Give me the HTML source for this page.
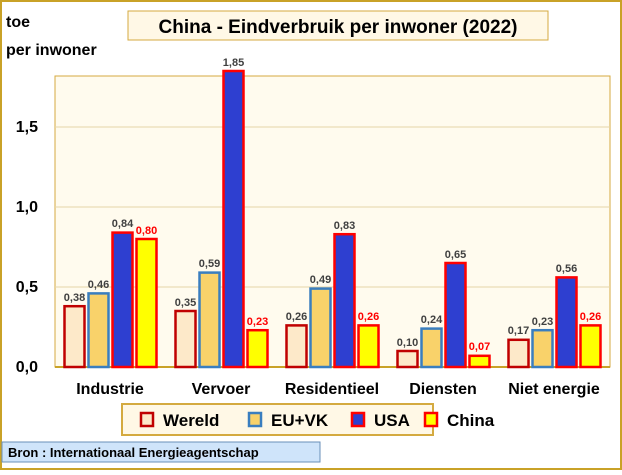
<!DOCTYPE html><html><head><style>body{margin:0;width:622px;height:470px;overflow:hidden;background:#fff}</style></head><body>
<svg width="622" height="470" xmlns="http://www.w3.org/2000/svg" font-family="'Liberation Sans',sans-serif" font-weight="bold">
<rect x="1" y="1" width="620" height="468" fill="#fff" stroke="#c9a227" stroke-width="2"/>
<rect x="55" y="76" width="555" height="291" fill="#fffbee" stroke="#d4aa40" stroke-width="1"/>
<g stroke="#e6d6a8" stroke-width="1"><line x1="55" y1="287" x2="610" y2="287"/><line x1="55" y1="207" x2="610" y2="207"/><line x1="55" y1="127" x2="610" y2="127"/></g>
<line x1="55" y1="367" x2="610" y2="367" stroke="#c9a227" stroke-width="2"/>
<rect x="128" y="11" width="420" height="29" fill="#fff8e6" stroke="#d4aa40"/>
<text x="338" y="33" text-anchor="middle" font-size="19" fill="#000">China - Eindverbruik per inwoner (2022)</text>
<text x="6" y="27" font-size="16">toe</text><text x="6" y="55" font-size="16">per inwoner</text>
<g font-size="16" text-anchor="end"><text x="38" y="372">0,0</text><text x="38" y="292">0,5</text><text x="38" y="212">1,0</text><text x="38" y="132">1,5</text></g>
<g stroke-width="2.5">
<g fill="#fde9c9" stroke="#c00000">
<rect x="64.5" y="306.2" width="20" height="60.8"/><rect x="175.5" y="311" width="20" height="56"/><rect x="286.5" y="325.4" width="20" height="41.6"/><rect x="397.5" y="351" width="20" height="16"/><rect x="508.5" y="339.8" width="20" height="27.2"/></g>
<g fill="#f9d26a" stroke="#3a7ebf">
<rect x="88.5" y="293.4" width="20" height="73.6"/><rect x="199.5" y="272.6" width="20" height="94.4"/><rect x="310.5" y="288.6" width="20" height="78.4"/><rect x="421.5" y="328.6" width="20" height="38.4"/><rect x="532.5" y="330.2" width="20" height="36.8"/></g>
<g fill="#2e3fd0" stroke="#f00">
<rect x="112.5" y="232.6" width="20" height="134.4"/><rect x="223.5" y="71" width="20" height="296"/><rect x="334.5" y="234.2" width="20" height="132.8"/><rect x="445.5" y="263" width="20" height="104"/><rect x="556.5" y="277.4" width="20" height="89.6"/></g>
<g fill="#ff0" stroke="#f00">
<rect x="136.5" y="239" width="20" height="128"/><rect x="247.5" y="330.2" width="20" height="36.8"/><rect x="358.5" y="325.4" width="20" height="41.6"/><rect x="469.5" y="355.8" width="20" height="11.2"/><rect x="580.5" y="325.4" width="20" height="41.6"/></g>
</g>
<g font-size="11" text-anchor="middle" fill="#404040">
<text x="74.5" y="301">0,38</text><text x="98.5" y="288">0,46</text><text x="122.5" y="227">0,84</text>
<text x="185.5" y="306">0,35</text><text x="209.5" y="267">0,59</text><text x="233.5" y="66">1,85</text>
<text x="296.5" y="320">0,26</text><text x="320.5" y="283">0,49</text><text x="344.5" y="229">0,83</text>
<text x="407.5" y="346">0,10</text><text x="431.5" y="323">0,24</text><text x="455.5" y="258">0,65</text>
<text x="518.5" y="334">0,17</text><text x="542.5" y="325">0,23</text><text x="566.5" y="272">0,56</text>
</g>
<g font-size="11" text-anchor="middle" fill="#f00">
<text x="146.5" y="234">0,80</text><text x="257.5" y="325">0,23</text><text x="368.5" y="320">0,26</text><text x="479.5" y="350">0,07</text><text x="590.5" y="320">0,26</text>
</g>
<g font-size="16" text-anchor="middle"><text x="110" y="394">Industrie</text><text x="221" y="394">Vervoer</text><text x="332" y="394">Residentieel</text><text x="443" y="394">Diensten</text><text x="554" y="394">Niet energie</text></g>
<rect x="122" y="404" width="311" height="31" fill="#fff8e6" stroke="#d4aa40" stroke-width="2"/>
<g font-size="17"><rect x="141" y="413" width="12" height="13" fill="#fde9c9" stroke="#c00000" stroke-width="2.5"/><text x="163" y="426">Wereld</text>
<rect x="249" y="413" width="12" height="13" fill="#f9d26a" stroke="#3a7ebf" stroke-width="2.5"/><text x="271" y="426">EU+VK</text>
<rect x="352" y="413" width="12" height="13" fill="#2e3fd0" stroke="#f00" stroke-width="2.5"/><text x="374" y="426">USA</text>
<rect x="425" y="413" width="12" height="13" fill="#ff0" stroke="#f00" stroke-width="2.5"/><text x="447" y="426">China</text></g>
<rect x="2" y="442" width="318" height="20" fill="#cfe4fa" stroke="#6a8fb8"/>
<text x="8" y="457" font-size="13">Bron : Internationaal Energieagentschap</text>
</svg></body></html>
